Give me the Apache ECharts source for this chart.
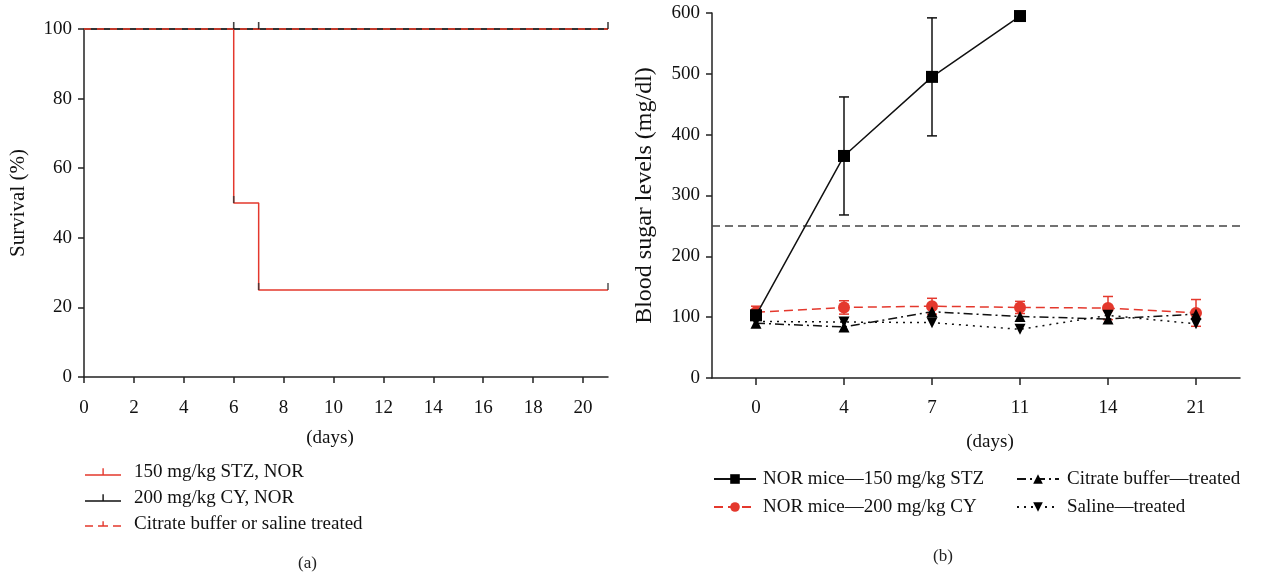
<!DOCTYPE html>
<html>
<head>
<meta charset="utf-8">
<script src="https://cdn.jsdelivr.net/npm/echarts@6/dist/echarts.min.js"></script>
<style>
html,body{margin:0;padding:0;background:#fff;}
#c{width:1271px;height:575px;}
</style>
</head>
<body>
<div id="c"></div>
<script>
// ---------- Panel (a): survival ----------
const survivalTicks = [0, 2, 4, 6, 8, 10, 12, 14, 16, 18, 20];
const stzSurvDays = [0, 6, 7, 21];
const stzSurvVals = [100, 50, 25, 25];
const cySurvDays = [0, 21];
const cySurvVals = [100, 100];
const ctrlSurvDays = [0, 21];
const ctrlSurvVals = [100, 100];
const cyCensorDays = [6, 7, 21];
const cyCensorVals = [100, 100, 100];
const stzCensorDays = [6, 7, 21];
const stzCensorVals = [50, 25, 25];

// ---------- Panel (b): blood sugar ----------
const dayCats = ['0', '4', '7', '11', '14', '21'];
const stzBG = [103, 365, 495, 595];
const stzErr = [8, 97, 97, 0];
const cyBG = [108, 116, 118, 116, 115, 107];
const cyErr = [10, 11, 13, 10, 19, 22];
const citrateBG = [90, 84, 109, 101, 97, 105];
const salineBG = [93, 92, 91, 80, 103, 89];
const threshold = 250;

const FONT = 'Liberation Serif';
const RED = '#e4382d';
const pair = (xs, ys) => xs.map((x, i) => [x, ys[i]]);

function errData(vals, errs) {
  return vals.map((v, i) => [i, v - errs[i], v + errs[i]]).filter((d, i) => errs[i] > 0);
}
function errRender(color) {
  return function (params, api) {
    const lo = api.coord([api.value(0), api.value(1)]);
    const hi = api.coord([api.value(0), api.value(2)]);
    const w = 5;
    const st = { stroke: color, lineWidth: 1.5, fill: null };
    return {
      type: 'group',
      children: [
        { type: 'line', shape: { x1: lo[0], y1: lo[1], x2: hi[0], y2: hi[1] }, style: st },
        { type: 'line', shape: { x1: lo[0] - w, y1: lo[1], x2: lo[0] + w, y2: lo[1] }, style: st },
        { type: 'line', shape: { x1: hi[0] - w, y1: hi[1], x2: hi[0] + w, y2: hi[1] }, style: st }
      ]
    };
  };
}

const txt = { fontFamily: FONT, fontSize: 19, color: '#111' };
const axisLine = { show: true, lineStyle: { color: '#222', width: 1.5 } };

const option = {
  animation: false,
  backgroundColor: '#fff',
  grid: [
    { left: 84, top: 29, width: 524, height: 348 },
    { left: 712, top: 13, width: 528, height: 365 }
  ],
  xAxis: [
    {
      gridIndex: 0, type: 'value', min: 0, max: 21, interval: 2,
      axisLine: axisLine,
      axisTick: { show: true, length: 6, lineStyle: { color: '#222', width: 1.5 }, customValues: survivalTicks },
      axisLabel: { ...txt, margin: 22, customValues: survivalTicks, formatter: v => (v > 20 ? '' : String(v)) },
      splitLine: { show: false },
      name: '(days)', nameLocation: 'middle', nameGap: 52,
      nameTextStyle: { ...txt, padding: [0, 32, 0, 0] }
    },
    {
      gridIndex: 1, type: 'category', data: dayCats, boundaryGap: true,
      axisLine: axisLine,
      axisTick: { show: true, alignWithLabel: true, length: 7, lineStyle: { color: '#222', width: 1.5 } },
      axisLabel: { ...txt, margin: 21 },
      name: '(days)', nameLocation: 'middle', nameGap: 55,
      nameTextStyle: { ...txt, padding: [0, 0, 0, 28] }
    }
  ],
  yAxis: [
    {
      gridIndex: 0, type: 'value', min: 0, max: 100, interval: 20,
      axisLine: axisLine,
      axisTick: { show: true, length: 6, lineStyle: { color: '#222', width: 1.5 } },
      axisLabel: { ...txt, margin: 12 },
      splitLine: { show: false },
      name: 'Survival (%)', nameLocation: 'middle', nameGap: 55, nameRotate: 90,
      nameTextStyle: { ...txt, fontSize: 21 }
    },
    {
      gridIndex: 1, type: 'value', min: 0, max: 600, interval: 100,
      axisLine: axisLine,
      axisTick: { show: true, length: 6, lineStyle: { color: '#222', width: 1.5 } },
      axisLabel: { ...txt, margin: 12 },
      splitLine: { show: false },
      name: 'Blood sugar levels (mg/dl)', nameLocation: 'middle', nameGap: 55, nameRotate: 90,
      nameTextStyle: { ...txt, fontSize: 24 }
    }
  ],
  legend: [
    {
      left: 80, top: 457, orient: 'vertical', itemGap: 6, itemWidth: 36, itemHeight: 9,
      textStyle: { ...txt, lineHeight: 20, padding: [0, 0, 0, 8] },
      data: [
        { name: '150 mg/kg STZ, NOR', icon: 'path://M0,7h36v1.3h-36z M17.4,1h1.4v6h-1.4z', itemStyle: { color: RED } },
        { name: '200 mg/kg CY, NOR', icon: 'path://M0,7h36v1.3h-36z M17.4,1h1.4v6h-1.4z', itemStyle: { color: '#111' } },
        { name: 'Citrate buffer or saline treated', icon: 'path://M0,7h8v1.3h-8z M13,7h10v1.3h-10z M28,7h8v1.3h-8z M17.4,3h1.4v4h-1.4z', itemStyle: { color: RED } }
      ]
    },
    {
      left: 708, top: 464, orient: 'vertical', itemGap: 8, itemWidth: 42, itemHeight: 12,
      textStyle: { ...txt, lineHeight: 20, padding: [0, 0, 0, 2] },
      data: ['NOR mice—150 mg/kg STZ', 'NOR mice—200 mg/kg CY']
    },
    {
      left: 1011, top: 464, orient: 'vertical', itemGap: 8, itemWidth: 42, itemHeight: 12,
      textStyle: { ...txt, lineHeight: 20, padding: [0, 0, 0, 3] },
      data: ['Citrate buffer—treated', 'Saline—treated']
    }
  ],
  graphic: [
    { type: 'text', left: 298, top: 555, style: { text: '(a)', font: '17px "Liberation Serif"', fill: '#222' } },
    { type: 'text', left: 933, top: 548, style: { text: '(b)', font: '17px "Liberation Serif"', fill: '#222' } }
  ],
  series: [
    // ----- panel (a)
    {
      name: '150 mg/kg STZ, NOR', type: 'line', xAxisIndex: 0, yAxisIndex: 0, step: 'end',
      data: pair(stzSurvDays, stzSurvVals), showSymbol: false, symbol: 'none',
      lineStyle: { color: RED, width: 1.5 }, itemStyle: { color: RED }, z: 2
    },
    {
      name: '200 mg/kg CY, NOR', type: 'line', xAxisIndex: 0, yAxisIndex: 0,
      data: pair(cySurvDays, cySurvVals), showSymbol: false, symbol: 'none',
      lineStyle: { color: '#333', width: 2 }, itemStyle: { color: '#111' }, z: 3
    },
    {
      name: 'Citrate buffer or saline treated', type: 'line', xAxisIndex: 0, yAxisIndex: 0,
      data: pair(ctrlSurvDays, ctrlSurvVals), showSymbol: false, symbol: 'none',
      lineStyle: { color: '#c0392b', width: 2, type: [7, 6] }, itemStyle: { color: RED }, z: 4
    },
    {
      name: 'censorCY', type: 'scatter', xAxisIndex: 0, yAxisIndex: 0,
      data: pair(cyCensorDays, cyCensorVals), symbol: 'rect', symbolSize: [1.6, 7], symbolOffset: [0, -3.5],
      itemStyle: { color: '#111' }, z: 5, silent: true
    },
    {
      name: 'censorSTZ', type: 'scatter', xAxisIndex: 0, yAxisIndex: 0,
      data: pair(stzCensorDays, stzCensorVals), symbol: 'rect', symbolSize: [1.6, 7], symbolOffset: [0, -3.5],
      itemStyle: { color: '#333' }, z: 5, silent: true
    },
    // ----- panel (b)
    {
      name: 'NOR mice—200 mg/kg CY', type: 'line', xAxisIndex: 1, yAxisIndex: 1,
      data: cyBG, symbol: 'circle', symbolSize: 12,
      lineStyle: { color: RED, width: 1.5, type: [9, 5] }, itemStyle: { color: RED }, z: 3
    },
    {
      name: 'cyErr', type: 'custom', xAxisIndex: 1, yAxisIndex: 1, renderItem: errRender(RED),
      data: errData(cyBG, cyErr), z: 3, silent: true
    },
    {
      name: 'Citrate buffer—treated', type: 'line', xAxisIndex: 1, yAxisIndex: 1,
      data: citrateBG, symbol: 'triangle', symbolSize: 11,
      lineStyle: { color: '#111', width: 1.5, type: [9, 4, 2, 4] }, itemStyle: { color: '#000' }, z: 4
    },
    {
      name: 'Saline—treated', type: 'line', xAxisIndex: 1, yAxisIndex: 1,
      data: salineBG, symbol: 'path://M0,0L10,0L5,9Z', symbolSize: 11,
      lineStyle: { color: '#111', width: 1.5, type: [2, 5] }, itemStyle: { color: '#000' }, z: 4
    },
    {
      name: 'NOR mice—150 mg/kg STZ', type: 'line', xAxisIndex: 1, yAxisIndex: 1,
      data: stzBG, symbol: 'rect', symbolSize: 12,
      lineStyle: { color: '#111', width: 1.5 }, itemStyle: { color: '#000' }, z: 5,
      markLine: {
        silent: true, symbol: 'none', label: { show: false },
        lineStyle: { color: '#444', width: 1.5, type: [8, 5] },
        data: [{ yAxis: threshold }]
      }
    },
    {
      name: 'stzErr', type: 'custom', xAxisIndex: 1, yAxisIndex: 1, renderItem: errRender('#111'),
      data: errData(stzBG, stzErr), z: 5, silent: true
    }
  ]
};

const chart = echarts.init(document.getElementById('c'), null, { renderer: 'canvas' });
chart.setOption(option);
</script>
</body>
</html>
